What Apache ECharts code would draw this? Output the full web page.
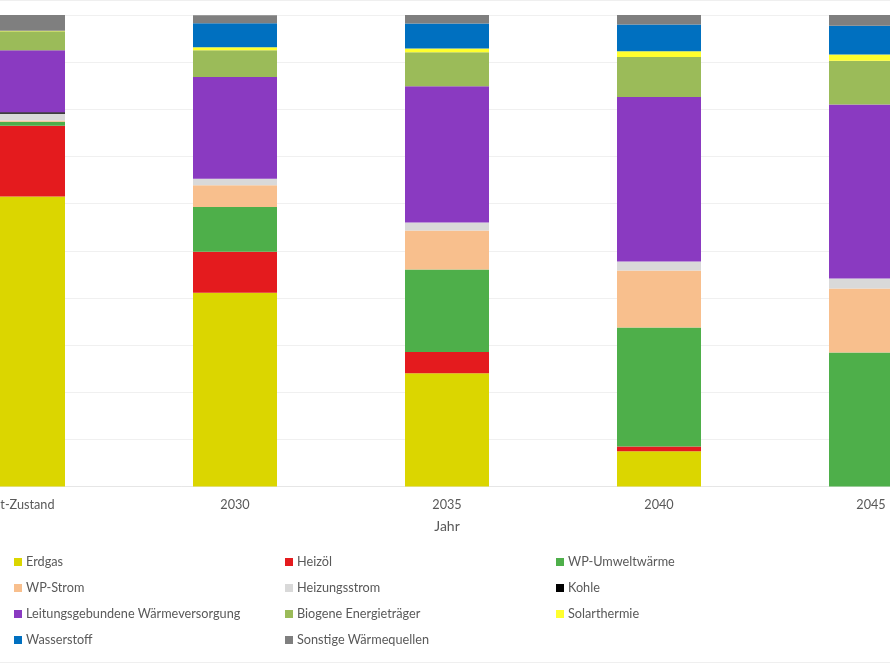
<!DOCTYPE html>
<html>
<head>
<meta charset="utf-8">
<title>Wärmeversorgung</title>
<script src="https://cdn.jsdelivr.net/npm/echarts@6/dist/echarts.min.js"></script>
<style>
    html, body { margin: 0; padding: 0; background: #fff; overflow: hidden; }
    /* Diagramm ist im Original links und rechts angeschnitten */
    #waerme-chart { width: 1060px; height: 664px; margin-left: -83px; }
</style>
</head>
<body>
<div id="waerme-chart"></div>
<script>
// Kategorien (x-Achse)
var jahre = ['Ist-Zustand', '2030', '2035', '2040', '2045'];

// Anteile in %, von unten nach oben gestapelt
var erdgas = [61.5, 41.1, 24.0, 7.5, 0];
var heizoel = [15.0, 8.7, 4.5, 1.0, 0];
var wpUmweltwaerme = [0.85, 9.5, 17.5, 25.2, 28.4];
var wpStrom = [0.3, 4.6, 8.3, 12.1, 13.6];
var heizungsstrom = [1.4, 1.35, 1.7, 1.9, 2.1];
var kohle = [0.3, 0, 0, 0, 0];
var leitungsgebunden = [13.2, 21.6, 28.9, 34.9, 36.9];
var biogen = [4.0, 5.7, 7.2, 8.5, 9.3];
var solarthermie = [0.1, 0.6, 0.8, 1.2, 1.3];
var wasserstoff = [0, 5.1, 5.3, 5.7, 6.1];
var sonstige = [3.4, 1.7, 1.8, 2.0, 2.3];

var reihen = [
    ['Erdgas', erdgas, '#dbd600'],
    ['Heizöl', heizoel, '#e41b1e'],
    ['WP-Umweltwärme', wpUmweltwaerme, '#4eaf4a'],
    ['WP-Strom', wpStrom, '#f8bf8d'],
    ['Heizungsstrom', heizungsstrom, '#d9d9d9'],
    ['Kohle', kohle, '#000000'],
    ['Leitungsgebundene Wärmeversorgung', leitungsgebunden, '#8a3ac1'],
    ['Biogene Energieträger', biogen, '#9bbb59'],
    ['Solarthermie', solarthermie, '#ffff2e'],
    ['Wasserstoff', wasserstoff, '#0070c0'],
    ['Sonstige Wärmequellen', sonstige, '#7f7f7f']
];

var schrift = 'Lato, "Open Sans", sans-serif';
var textGrau = '#595959';
var versatz = 83; // sichtbarer Bereich beginnt hier

/**
 * eine Legendenspalte
 */
function legendSpalte(links, namen) {
    return {
        orient: 'vertical',
        left: links + versatz,
        top: 554,
        padding: 0,
        itemWidth: 8,
        itemHeight: 8,
        itemGap: 10,
        icon: 'rect',
        selectedMode: false,
        data: namen,
        textStyle: {
            fontFamily: schrift,
            fontSize: 12.7,
            color: textGrau,
            lineHeight: 16,
            padding: [0, 0, 0, -1]
        }
    };
}

var series = reihen.map(function (r) {
    return {
        name: r[0],
        type: 'bar',
        stack: 'gesamt',
        barWidth: 84,
        data: r[1],
        itemStyle: { color: r[2] },
        emphasis: { disabled: true }
    };
});

var option = {
    animation: false,
    backgroundColor: '#ffffff',
    textStyle: { fontFamily: schrift },
    grid: {
        left: 0,
        right: 0,
        top: 15,
        bottom: 177.5
    },
    legend: [
        legendSpalte(14, ['Erdgas', 'WP-Strom', 'Leitungsgebundene Wärmeversorgung', 'Wasserstoff']),
        legendSpalte(285, ['Heizöl', 'Heizungsstrom', 'Biogene Energieträger', 'Sonstige Wärmequellen']),
        legendSpalte(556, ['WP-Umweltwärme', 'Kohle', 'Solarthermie'])
    ],
    xAxis: {
        type: 'category',
        data: jahre,
        name: 'Jahr',
        nameLocation: 'middle',
        nameGap: 33,
        nameTextStyle: { fontFamily: schrift, fontSize: 14, color: textGrau },
        axisLine: { lineStyle: { color: '#e6e6e6' } },
        axisTick: { length: 5, lineStyle: { color: '#e0e0e0' } },
        axisLabel: { margin: 12, fontFamily: schrift, fontSize: 12.7, color: textGrau }
    },
    yAxis: {
        type: 'value',
        min: 0,
        max: 100,
        interval: 10,
        axisLabel: { show: false },
        axisLine: { show: false },
        axisTick: { show: false },
        splitLine: { lineStyle: { color: '#f0f0f0' } }
    },
    // Rahmen des Diagrammbereichs
    graphic: [
        { type: 'line', shape: { x1: versatz, y1: 0.5, x2: versatz + 890, y2: 0.5 }, style: { stroke: '#efefef', lineWidth: 1 } },
        { type: 'line', shape: { x1: versatz, y1: 662.5, x2: versatz + 890, y2: 662.5 }, style: { stroke: '#efefef', lineWidth: 1 } }
    ],
    series: series
};

var chart = echarts.init(document.getElementById('waerme-chart'));
chart.setOption(option);
</script>
</body>
</html>
